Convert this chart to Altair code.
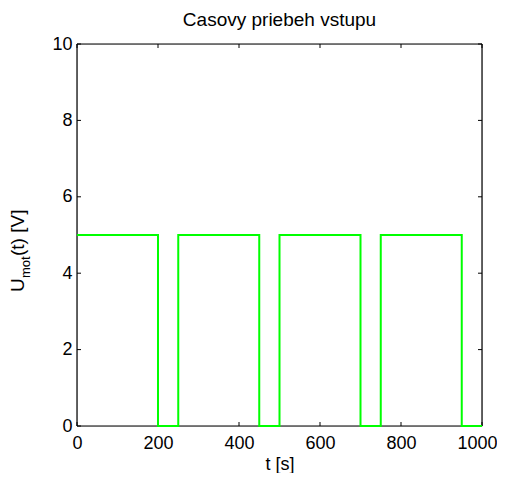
import altair as alt
import pandas as pd

# signal data
t_vals = [0, 200, 250, 450, 500, 700, 750, 950, 1000]
u_vals = [5, 0, 5, 0, 5, 0, 5, 0, 0]
x_ticks = [0, 200, 400, 600, 800, 1000]
y_ticks = [0, 2, 4, 6, 8, 10]

title_text = "Casovy priebeh vstupu"
x_title = "t [s]"
y_main = "U"
y_sub = "mot"
y_rest = "(t) [V]"

W, H = 405, 382
FONT = "Liberation Sans"

sig = pd.DataFrame({"t": t_vals, "u": u_vals})
xt = pd.DataFrame({"t": x_ticks})
yt = pd.DataFrame({"u": y_ticks})

xs = alt.Scale(domain=[0, 1000], nice=False, zero=False)
ys = alt.Scale(domain=[0, 10], nice=False, zero=False)

x_axis = alt.Axis(values=x_ticks, title=x_title, ticks=False, domain=False, grid=False,
                  format="d",
                  labelFontSize=18, labelFont=FONT, labelColor="black", labelPadding=8,
                  labelOffset=alt.ExprRef("datum.value == 1000 ? -5 : 0"),
                  titleFontSize=18, titleFont=FONT, titleFontWeight="normal", titleColor="black",
                  titlePadding=3, labelFlush=False)
y_axis = alt.Axis(values=y_ticks, title=None, ticks=False, domain=False, grid=False,
                  format="d",
                  labelFontSize=18, labelFont=FONT, labelColor="black", labelPadding=5,
                  labelFlush=False)

X = alt.X("t:Q", scale=xs, axis=x_axis)
Y = alt.Y("u:Q", scale=ys, axis=y_axis)

line = alt.Chart(sig).mark_line(color="#00FF00", strokeWidth=2, interpolate="step-after").encode(
    x=X, y=Y)

tb = alt.Chart(xt).mark_rule(color="black", strokeWidth=1).encode(
    x=X, y=alt.value(H), y2=alt.value(H - 4))
tt = alt.Chart(xt).mark_rule(color="black", strokeWidth=1).encode(
    x=X, y=alt.value(0), y2=alt.value(4))
tl = alt.Chart(yt).mark_rule(color="black", strokeWidth=1).encode(
    y=Y, x=alt.value(0), x2=alt.value(4))
tr = alt.Chart(yt).mark_rule(color="black", strokeWidth=1).encode(
    y=Y, x=alt.value(W), x2=alt.value(W - 4))

one = pd.DataFrame({"k": [0]})
def edge(x, x2, y, y2):
    return alt.Chart(one).mark_rule(color="black", strokeWidth=1.2).encode(
        x=alt.value(x), x2=alt.value(x2), y=alt.value(y), y2=alt.value(y2))

box = edge(0, W, 0, 0) + edge(0, W, H, H) + edge(0, 0, 0, H) + edge(W, W, 0, H)

def txt(s, size, x, y, angle=0, align="left"):
    return alt.Chart(pd.DataFrame({"s": [s]})).mark_text(
        angle=angle, align=align, baseline="alphabetic", fontSize=size, font=FONT, color="black"
    ).encode(text="s:N", x=alt.value(x), y=alt.value(y))

lab = (txt(y_main, 19, -53, 248, 270) + txt(y_sub, 13, -47, 234, 270)
       + txt(y_rest, 19, -53, 212, 270))
ttl = txt(title_text, 19, W / 2, -18, 0, "center")

chart = alt.layer(tb, tt, tl, tr, box, line, lab, ttl).properties(
    width=W, height=H,
    autosize=alt.AutoSizeParams(type="none"),
    padding={"left": 69, "top": 36, "right": 15, "bottom": 47},
).configure_view(stroke=None).configure(background="white")

chart.save("out.html", embed_options={"renderer": "svg", "actions": False})
